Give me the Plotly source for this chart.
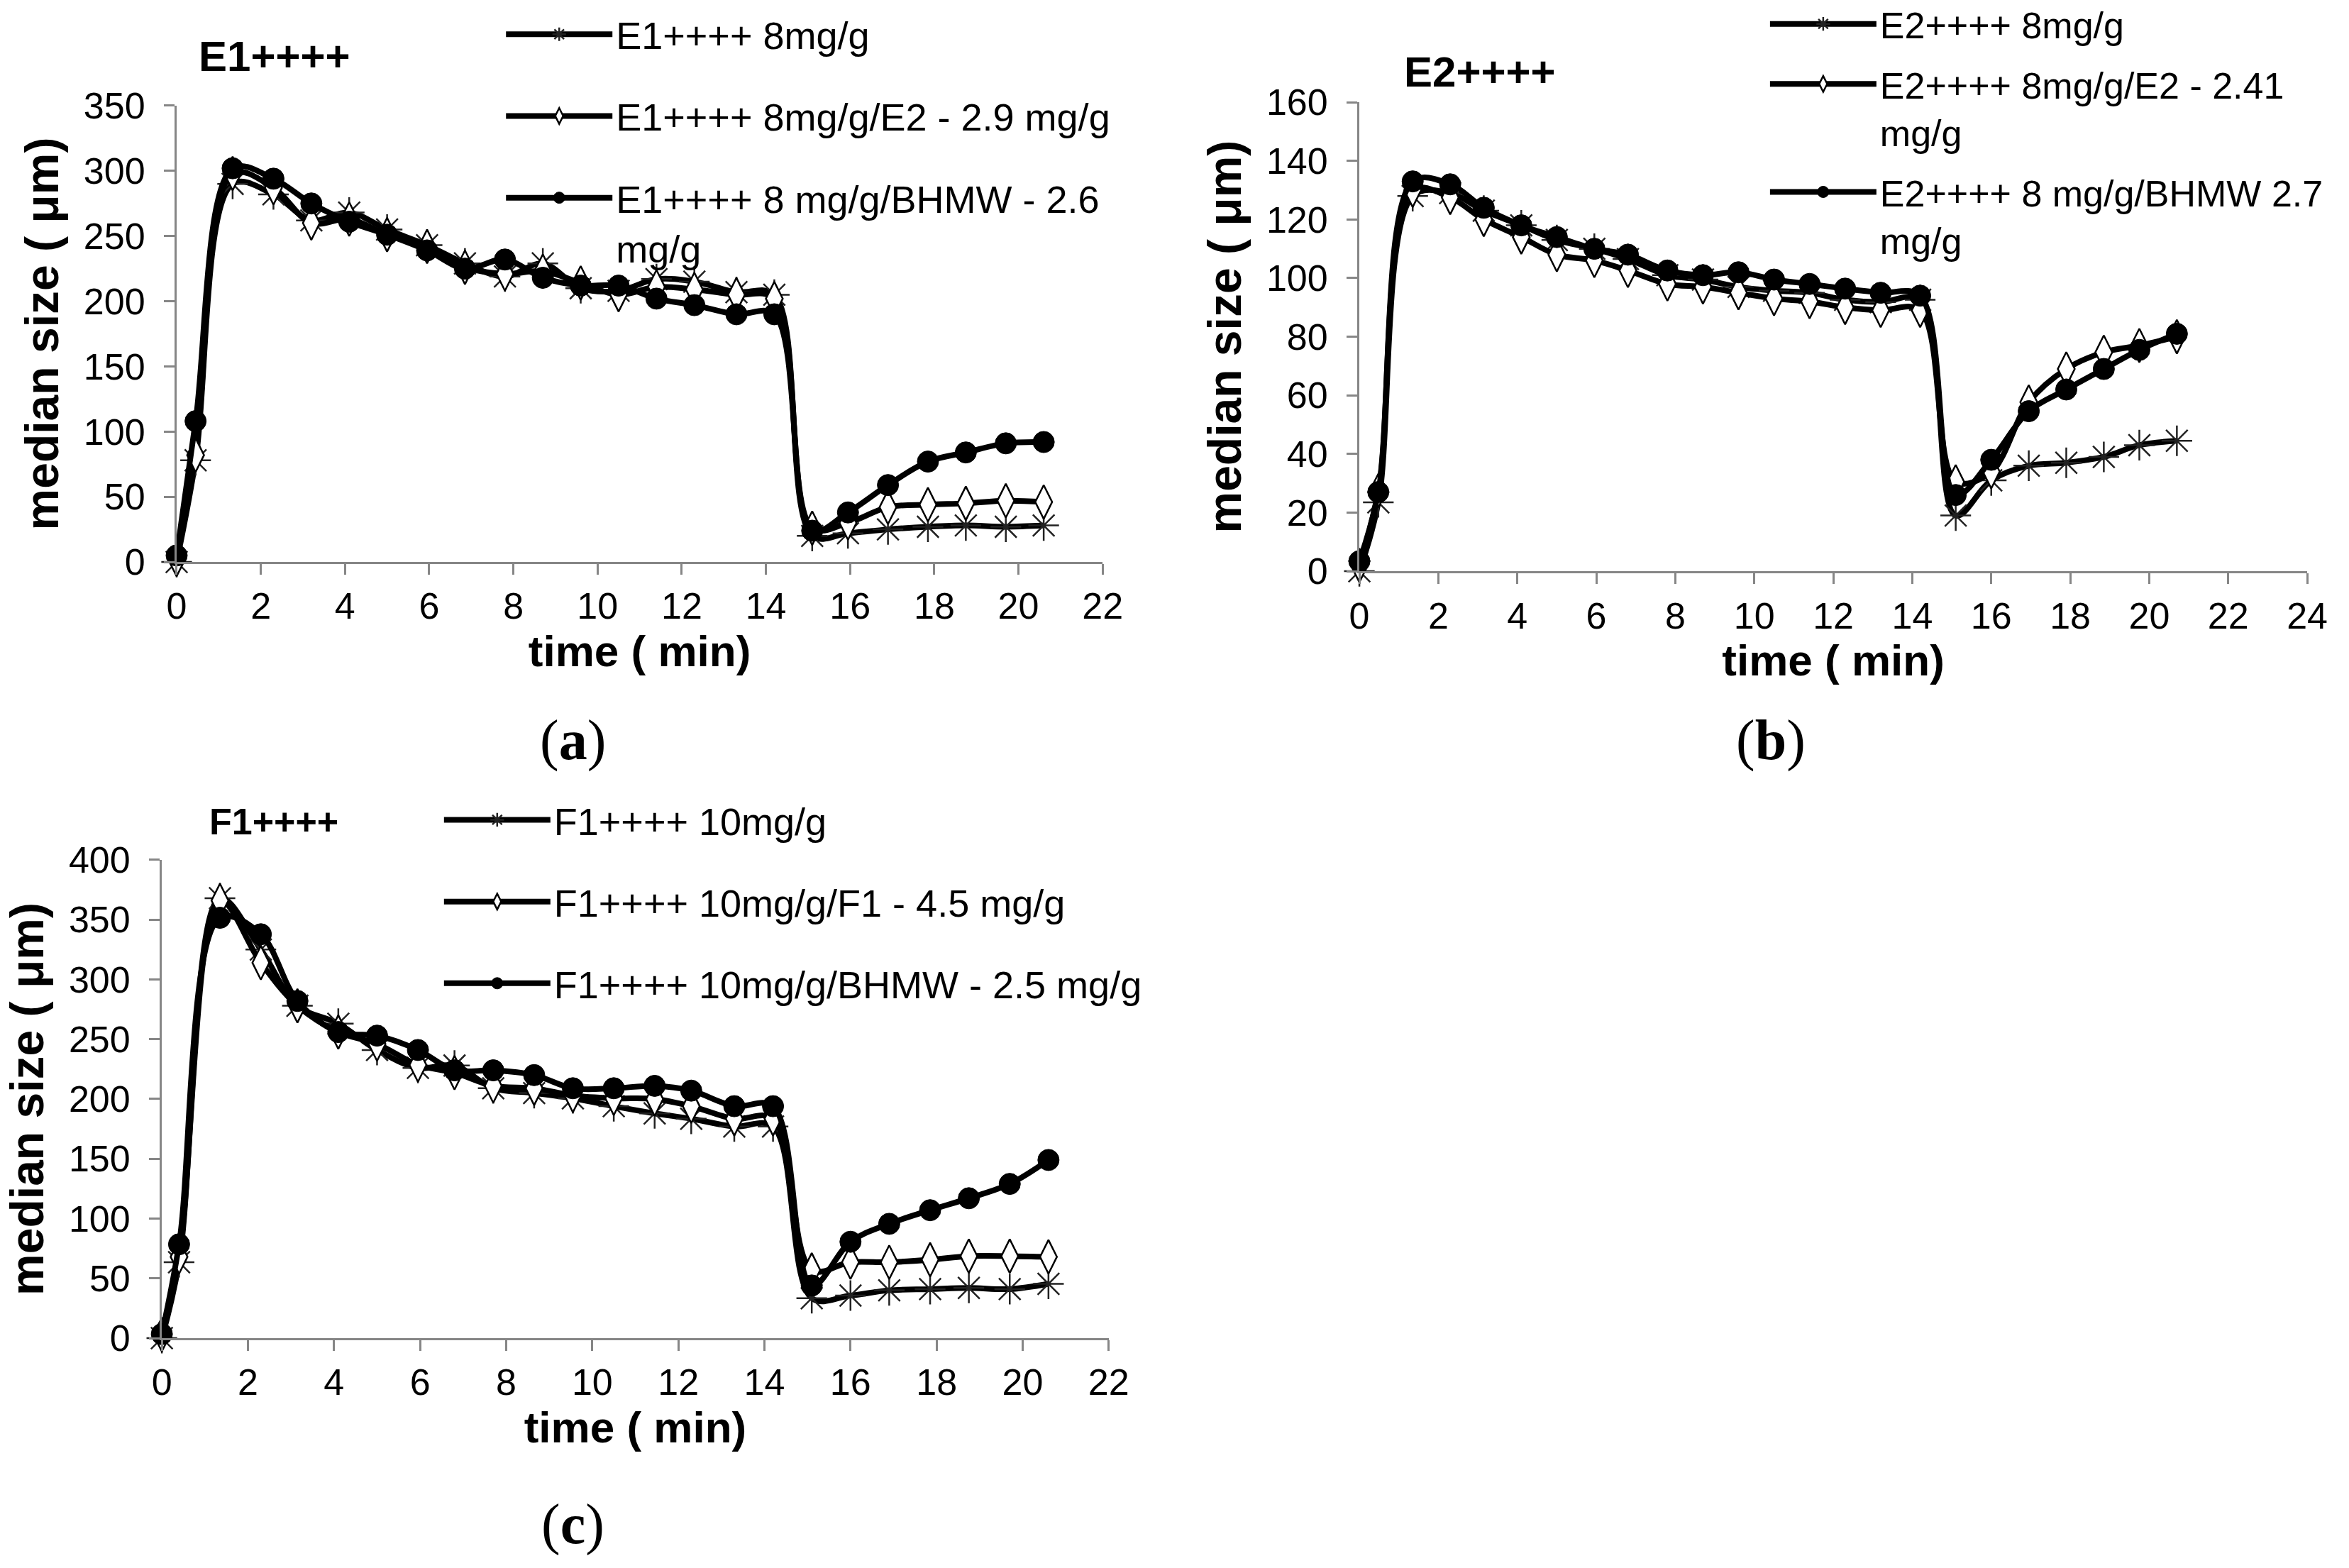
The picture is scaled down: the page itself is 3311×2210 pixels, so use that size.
import plotly.graph_objects as go

# ---------------- data ----------------
t_a = [0, 0.45, 1.33, 2.3, 3.2, 4.1, 5.0, 5.95, 6.85, 7.8, 8.7, 9.6, 10.5, 11.4, 12.3, 13.3, 14.2, 15.1, 15.95, 16.9, 17.85, 18.75, 19.7, 20.6]
a_base = [0, 78, 290, 282, 262, 268, 255, 243, 229, 219, 229, 210, 208, 217, 215, 207, 205, 20, 22, 25, 27, 28, 27, 28]
a_e2 = [2, 82, 298, 287, 260, 263, 251, 242, 226, 221, 223, 214, 205, 211, 209, 205, 202, 26, 30, 42, 44, 45, 47, 46]
a_bhmw = [5, 108, 302, 294, 275, 261, 251, 239, 225, 232, 218, 212, 212, 202, 197, 190, 190, 24, 38, 59, 77, 84, 91, 92]

t_b = [0, 0.48, 1.35, 2.3, 3.15, 4.1, 5.0, 5.95, 6.8, 7.8, 8.7, 9.6, 10.5, 11.4, 12.3, 13.2, 14.2, 15.1, 16.0, 16.95, 17.9, 18.85, 19.75, 20.7]
b_base = [0, 23.5, 128, 129, 123, 118, 113, 110, 106.5, 101, 99.5, 97, 95.7, 95, 92.6, 91.8, 92.6, 19, 31, 36, 37, 39, 43, 44.5]
b_e2 = [2, 27.5, 130, 127.5, 120, 114, 108, 106, 102.6, 98, 97, 95, 93, 92, 90, 89, 89, 30.5, 34, 57.7, 69, 74.7, 77, 80]
b_bhmw = [3.4, 27, 133, 132, 124, 118, 114, 110, 108, 102.6, 101, 102, 99.5, 98, 96.4, 95, 94, 26, 38, 54.6, 62, 69, 75.5, 81]

t_c = [0, 0.4, 1.35, 2.3, 3.15, 4.1, 5.0, 5.95, 6.8, 7.7, 8.65, 9.55, 10.5, 11.45, 12.3, 13.3, 14.2, 15.1, 16.0, 16.9, 17.85, 18.75, 19.7, 20.6]
c_base = [0, 63.5, 368, 325, 278, 263, 241, 226, 228, 209, 205, 200.6, 194, 188, 183.5, 177, 177, 33.4, 35.6, 40, 41, 42, 41, 45.4]
c_f1 = [3, 68, 366, 314, 278, 256, 246, 228.5, 222, 211, 209, 203, 200.6, 200, 194, 183.5, 183.5, 57, 63.5, 63.5, 65.6, 68.6, 68.6, 68]
c_bhmw = [3.4, 78.5, 351.6, 337.8, 282, 256, 253, 241, 224, 224, 220, 209, 209, 211, 207, 194, 194, 44, 80.6, 95.6, 107, 117, 129, 149]

names_a = ["E1++++ 8mg/g", "E1++++ 8mg/g/E2 - 2.9 mg/g", "E1++++ 8 mg/g/BHMW - 2.6<br>mg/g"]
names_b = ["E2++++ 8mg/g", "E2++++ 8mg/g/E2 - 2.41<br>mg/g", "E2++++ 8 mg/g/BHMW 2.7<br>mg/g"]
names_c = ["F1++++ 10mg/g", "F1++++ 10mg/g/F1 - 4.5 mg/g", "F1++++ 10mg/g/BHMW - 2.5 mg/g"]

panel_titles = ["E1++++", "E2++++", "F1++++"]
panel_labels = ["(<b>a</b>)", "(<b>b</b>)", "(<b>c</b>)"]

FONT = "Liberation Sans, Arial, sans-serif"

markers = [
    dict(symbol="asterisk-open", size=36, color="#222", line=dict(color="#222", width=2.5)),
    dict(symbol="diamond-tall", size=34, color="white", line=dict(color="black", width=2.5)),
    dict(symbol="circle", size=30, color="black", line=dict(color="black", width=1)),
]

fig = go.Figure()

panels = [
    (t_a, [a_base, a_e2, a_bhmw], names_a, "x", "y", "legend"),
    (t_b, [b_base, b_e2, b_bhmw], names_b, "x2", "y2", "legend2"),
    (t_c, [c_base, c_f1, c_bhmw], names_c, "x3", "y3", "legend3"),
]
for pi, (t, series, names, xa, ya, lg) in enumerate(panels):
    for si, (ys, nm) in enumerate(zip(series, names)):
        fig.add_trace(go.Scatter(
            x=t, y=ys, name=nm, mode="lines+markers",
            line=dict(color="black", width=8, shape="spline", smoothing=1.0),
            marker=markers[si], xaxis=xa, yaxis=ya, legend=lg,
            legendgroup=f"{lg}_{si}", cliponaxis=False, showlegend=True,
        ))

axis_common = dict(
    showline=True, linecolor="#868686", linewidth=3, ticks="outside", ticklen=15,
    tickcolor="#868686", tickwidth=3, showgrid=False, zeroline=False, automargin=False,
    tickfont=dict(family=FONT, size=52, color="black"),
)
xtitle = dict(text="time ( min)", font=dict(family=FONT, size=62, color="black", weight="bold"), standoff=2)
ytitle = dict(text="median size ( μm)", font=dict(family=FONT, size=66, color="black", weight="bold"), standoff=14)

legend_common = dict(
    font=dict(family=FONT, size=54, color="black"), bgcolor="rgba(0,0,0,0)",
    itemwidth=150, valign="top", xanchor="left", yanchor="top", tracegroupgap=42,
    itemclick=False, itemdoubleclick=False,
)

fig.update_layout(
    template="none",
    width=3311, height=2210, autosize=False,
    margin=dict(l=0, r=0, t=0, b=0, pad=0, autoexpand=False),
    font=dict(family=FONT, color="black"),
    paper_bgcolor="white", plot_bgcolor="white",
    xaxis=dict(domain=[0.0752, 0.4694], range=[0, 22], dtick=2, anchor="y", title=xtitle, **axis_common),
    yaxis=dict(domain=[0.6416, 0.9326], range=[0, 350], dtick=50, anchor="x", title=ytitle,
               ticklabelstandoff=16, **axis_common),
    xaxis2=dict(domain=[0.5787, 0.9822], range=[0, 24], dtick=2, anchor="y2", title=xtitle, **axis_common),
    yaxis2=dict(domain=[0.6357, 0.9348], range=[0, 160], dtick=20, anchor="x2", title=ytitle,
                ticklabelstandoff=16, **axis_common),
    xaxis3=dict(domain=[0.0689, 0.4720], range=[0, 22], dtick=2, anchor="y3", title=xtitle, **axis_common),
    yaxis3=dict(domain=[0.1466, 0.4516], range=[0, 400], dtick=50, anchor="x3", title=ytitle,
                ticklabelstandoff=16, **axis_common),
    legend=dict(x=0.2139, y=0.997, **legend_common),
    legend2=dict(x=0.752, y=1.003, **{**legend_common, "tracegroupgap": 14,
                                       "font": dict(family=FONT, size=52, color="black")}),
    legend3=dict(x=0.1875, y=0.496, **legend_common),
    showlegend=True,
)

title_pos = [(0.117, 0.964), (0.630, 0.954), (0.1165, 0.476)]
title_sizes = [60, 60, 52]
label_pos = [(0.244, 0.528), (0.754, 0.528), (0.244, 0.028)]
for txt, (x, y), fs in zip(panel_titles, title_pos, title_sizes):
    fig.add_annotation(text=txt, x=x, y=y, xref="paper", yref="paper", showarrow=False,
                       xanchor="center", yanchor="middle",
                       font=dict(family=FONT, size=fs, color="black", weight="bold"))
for txt, (x, y) in zip(panel_labels, label_pos):
    fig.add_annotation(text=txt, x=x, y=y, xref="paper", yref="paper", showarrow=False,
                       xanchor="center", yanchor="middle",
                       font=dict(family="Liberation Serif, DejaVu Serif, serif", size=80, color="black"))

fig.write_html("out.html", config={"displayModeBar": False},
               post_script="document.body.style.margin='0';")
